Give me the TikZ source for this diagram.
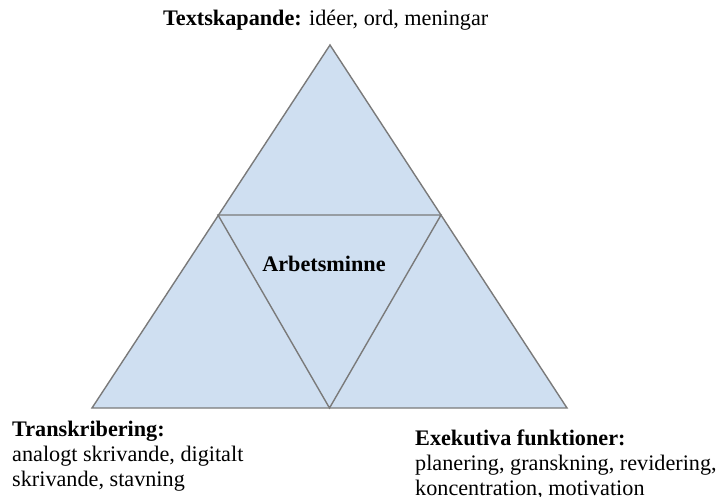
\documentclass[tikz,border=0pt]{standalone}
\usepackage{fontspec}
\setmainfont{Liberation Serif}
\usetikzlibrary{positioning}

\definecolor{triblue}{HTML}{CFDFF1}
\definecolor{edgegray}{HTML}{7A7A7A}

\tikzset{
  tri/.style={draw=edgegray, line width=1.4pt, line join=miter, fill=triblue},
  label/.style={inner sep=0pt, align=left, font=\fontsize{22.2}{25}\selectfont},
}

\begin{document}
\begin{tikzpicture}[x=1pt, y=-1pt]
    \useasboundingbox (0, 0) rectangle (719, 496);

    % corners of the big triangle and of the inner one
    \coordinate (apex) at (330, 45);
    \coordinate (bl) at (92, 408);
    \coordinate (br) at (567, 408);
    \coordinate (ml) at (218, 215);
    \coordinate (mr) at (441, 215);
    \coordinate (mb) at (329.5, 408);

    \draw[tri] (apex) -- (bl) -- (br) -- cycle;
    \draw[tri] (ml) -- (mr) -- (mb) -- cycle;

    % base anchors sit on the last line of each label
    \node[label, anchor=base west] (ideas) at (163, 25) {\textbf{Textskapande:} idéer, ord, meningar};
    \node[label, anchor=base] (memory) at (324, 271) {\textbf{Arbetsminne}};
    \node[label, anchor=base west] (transcr) at (12, 486) {\textbf{Transkribering:}\\analogt skrivande, digitalt\\skrivande, stavning};
    \node[label, anchor=base west] (exec) at (415, 495) {\textbf{Exekutiva funktioner:}\\planering, granskning, revidering,\\koncentration, motivation};
\end{tikzpicture}
\end{document}
